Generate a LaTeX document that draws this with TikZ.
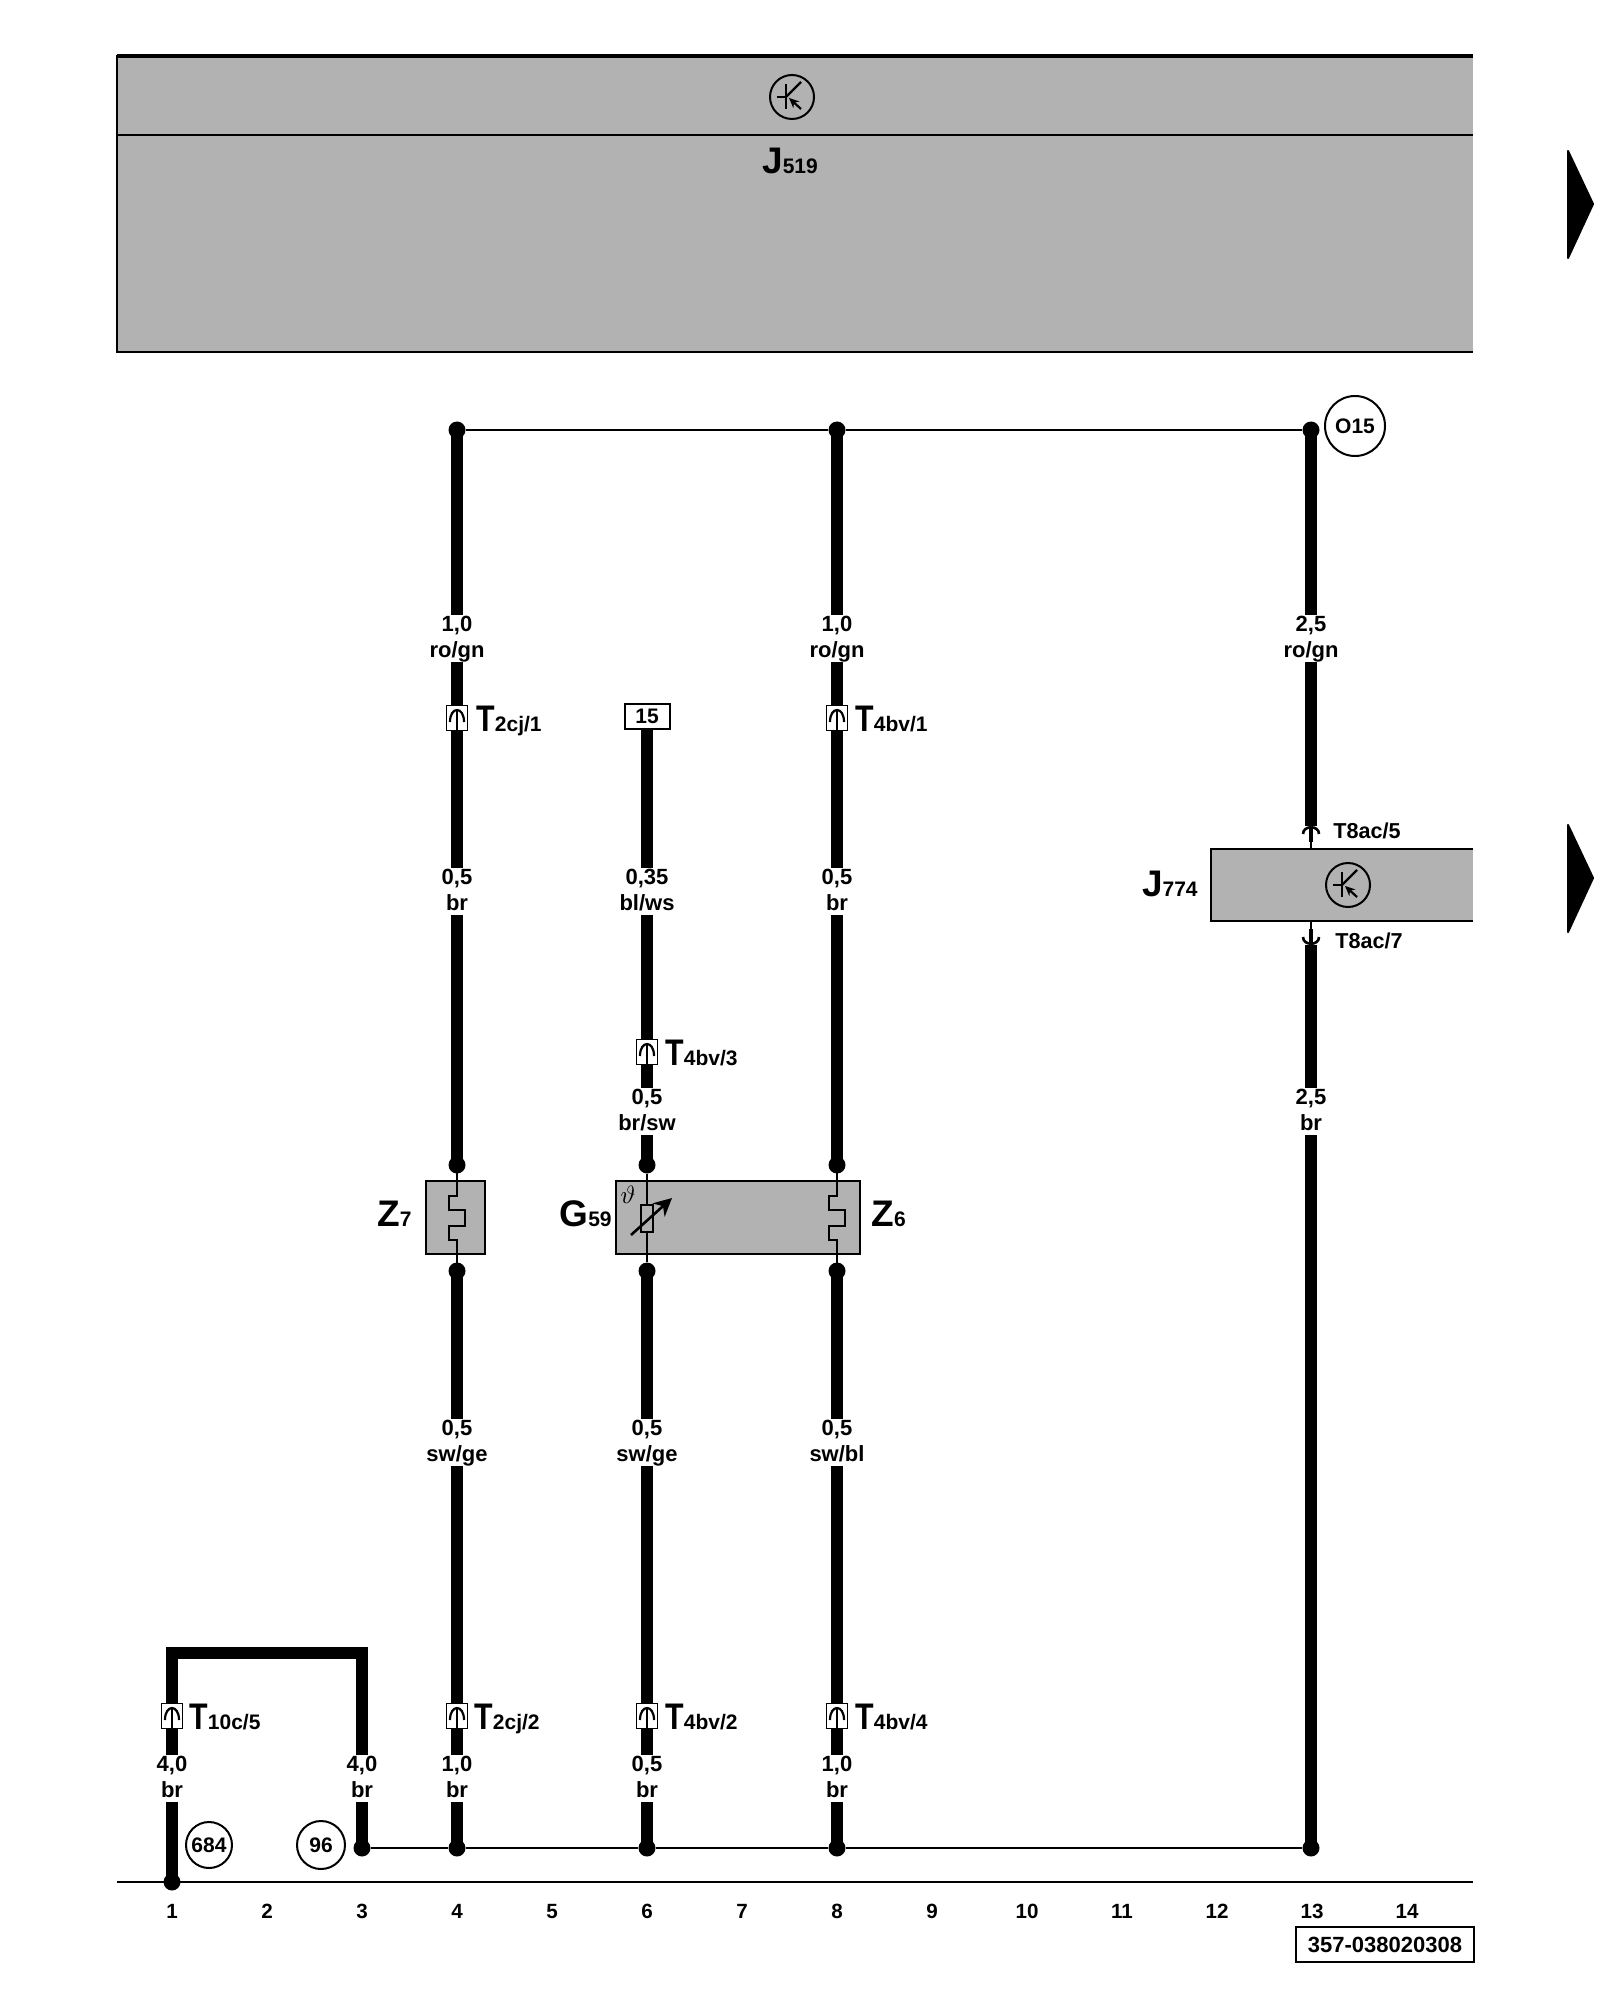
\documentclass[tikz,border=0pt]{standalone}
\usepackage{fontspec}
\setmainfont{Liberation Sans}
\usetikzlibrary{arrows.meta}
\definecolor{boxgrey}{RGB}{178, 178, 178}
\newcommand{\desig}[2]{{\fontsize{18.5}{18}\selectfont #1}{\fontsize{10.5}{12}\selectfont #2}}
\newcommand{\wstrut}{\rule[-2.4pt]{0pt}{10.6pt}}
\tikzset{
    wire/.style={line width=6pt},
    thinwire/.style={line width=1.1pt},
    dot/.style={circle, fill=black, inner sep=0pt, minimum size=8.5pt},
    wirelabel/.style={fill=white, inner sep=0pt, yshift=-1.3pt, align=center, font=\bfseries\fontsize{11}{13}\selectfont},
    partlabel/.style={inner sep=0pt, font=\bfseries},
    pinlabel/.style={inner sep=0pt, anchor=base west, font=\bfseries\fontsize{10.8}{13}\selectfont},
    housing/.style={draw, fill=white, line width=0.9pt, inner sep=0pt, minimum width=10.5pt, minimum height=12.5pt},
    devbox/.style={draw, fill=boxgrey, line width=1.1pt, inner sep=0pt},
    ring/.style={draw, circle, line width=1pt, inner sep=0pt, font=\bfseries\fontsize{10.5}{12}\selectfont},
    navtip/.style={fill=black, draw=black, line join=round, line width=1pt}
}

\begin{document}
\begin{tikzpicture}[x=0.5pt, y=-0.5pt]
    \useasboundingbox (0, 0) rectangle (1600, 2000);

    % control unit
    \fill[boxgrey] (117, 56) rectangle (1473, 352);
    \draw[line width=1.8pt] (117, 56) -- (1473, 56);
    \draw[thinwire] (117, 135) -- (1473, 135);
    \draw[thinwire] (117, 352) -- (1473, 352);
    \draw[thinwire] (117, 55) -- (117, 353);
    \node[partlabel] (jfive) at (790, 161) {\desig{J}{519}};

    % relay box
    \fill[boxgrey] (1211, 849) rectangle (1473, 921);
    \draw[thinwire] (1473, 849) -- (1211, 849) -- (1211, 921) -- (1473, 921);
    \node[partlabel, anchor=base east] (jseven) at (1198, 896) {\desig{J}{774}};

    % transistor signs
    \foreach \tx/\ty in {792/97, 1348/885} {
            \node[ring, minimum size=22pt] (tr\tx) at (\tx, \ty) {};
            \draw[thinwire] (\tx - 6, \ty - 13) -- (\tx - 6, \ty + 12);
            \draw[thinwire] (\tx - 15, \ty) -- (\tx - 6, \ty);
            \draw[thinwire] (\tx - 6, \ty) -- (\tx + 9, \ty - 15);
            \draw[thinwire, {Stealth[length=5pt, width=4.5pt]}-] (\tx - 3, \ty + 1) -- (\tx + 9, \ty + 12);
        }

    % devices
    \node[devbox, minimum width=29.5pt, minimum height=36.5pt] (zseven) at (455.5, 1217.5) {};
    \node[devbox, minimum width=122pt, minimum height=36.5pt] (gfifty) at (738, 1217.5) {};
    \node[partlabel, anchor=base east] (zsevenname) at (412, 1226) {\desig{Z}{7}};
    \node[partlabel, anchor=base east] (gname) at (612, 1226) {\desig{G}{59}};
    \node[partlabel, anchor=base west] (zsixname) at (871, 1226) {\desig{Z}{6}};

    % junctions
    \foreach \n/\x/\y in {t4/457/430, t8/837/430, t13/1311/430,
            u4/457/1165, u6/647/1165, u8/837/1165,
            l4/457/1271, l6/647/1271, l8/837/1271,
            b3/362/1848, b4/457/1848, b6/647/1848, b8/837/1848, b13/1311/1848,
            g1/172/1882} {
            \node[dot] (\n) at (\x, \y) {};
        }
    \node[draw, fill=white, line width=1pt, inner sep=0pt, minimum width=22.5pt, minimum height=12.5pt, font=\bfseries\fontsize{10.5}{12}\selectfont] (termfifteen) at (647, 716.5) {15};
    \coordinate (cornerleft) at (172, 1653);
    \coordinate (cornerright) at (362, 1653);
    \coordinate (pinup) at (1311, 826);
    \coordinate (pindown) at (1311, 945);

    % thin lines
    \draw[thinwire] (t4) -- (t8) -- (t13);
    \draw[thinwire] (b3) -- (b4) -- (b6) -- (b8) -- (b13);
    \draw[thinwire] (117, 1882) -- (1473, 1882);

    % wires
    \draw[wire] (t4.center) -- (u4.center);
    \draw[wire] (t8.center) -- (u8.center);
    \draw[wire] (termfifteen.south) -- (u6.center);
    \draw[wire] (l4.center) -- (b4.center);
    \draw[wire] (l6.center) -- (b6.center);
    \draw[wire] (l8.center) -- (b8.center);
    \draw[wire] (t13.center) -- (pinup);
    \draw[wire] (pindown) -- (b13.center);
    \draw[wire, line join=miter] (g1.center) -- (cornerleft) -- (cornerright) -- (b3.center);

    % fuses and sensor
    \foreach \a/\b in {u4/l4, u8/l8} {
            \draw[thinwire] (\a.center) -- ++(0, 31) -- ++(-8, 0) -- ++(0, 14) -- ++(16, 0) -- ++(0, 16)
            -- ++(-16, 0) -- ++(0, 14) -- ++(8, 0) -- (\b.center);
        }
    \draw[thinwire] (u6) -- (l6);
    \node[draw, fill=boxgrey, line width=1pt, inner sep=0pt, minimum width=6.3pt, minimum height=13.5pt] (sensor) at (647, 1218) {};
    \draw[line width=1.3pt, -{Stealth[length=9pt, width=9pt]}] (631, 1235) -- (672, 1198);
    \node[inner sep=0pt, scale=1.25] (theta) at (628, 1195) {$\vartheta$};

    % relay pins
    \draw[thinwire] (1311, 840) -- (1311, 849);
    \draw[line width=2.4pt] (1311, 828) -- (1311, 842);
    \draw[line width=1.3pt] (1303, 834) .. controls (1303, 825) and (1319, 825) .. (1319, 834);
    \draw[thinwire] (1311, 921) -- (1311, 931);
    \draw[line width=2.4pt] (1311, 929) -- (1311, 943);
    \draw[line width=1.3pt] (1303, 937) .. controls (1303, 946) and (1319, 946) .. (1319, 937);
    \node[pinlabel] (pinfive) at (1333, 838) {T8ac/5};
    \node[pinlabel] (pinseven) at (1335, 948) {T8ac/7};

    % wire labels
    \foreach \n/\x/\y/\wsize/\wcol in {a1/457/636/{1,0}/ro\slash gn, a2/837/636/{1,0}/ro\slash gn, a3/1311/636/{2,5}/ro\slash gn,
            c1/457/889/{0,5}/br, c2/647/889/{0,35}/bl\slash ws, c3/837/889/{0,5}/br,
            d1/647/1109/{0,5}/br\slash sw, d2/1311/1109/{2,5}/br,
            e1/457/1440/{0,5}/sw\slash ge, e2/647/1440/{0,5}/sw\slash ge, e3/837/1440/{0,5}/sw\slash bl,
            f1/172/1776/{4,0}/br, f2/362/1776/{4,0}/br, f3/457/1776/{1,0}/br, f4/647/1776/{0,5}/br, f5/837/1776/{1,0}/br} {
            \node[wirelabel] (\n) at (\x, \y) {\wstrut\wsize\\\wstrut\wcol};
        }

    % housings
    \foreach \n/\x/\y/\tx/\tnum in {h1/457/718/476/2cj\slash 1, h2/837/718/855/4bv\slash 1, h3/647/1052/665/4bv\slash 3,
            h4/172/1716/189/10c\slash 5, h5/457/1716/474/2cj\slash 2, h6/647/1716/665/4bv\slash 2, h7/837/1716/855/4bv\slash 4} {
            \node[housing] (\n) at (\x, \y) {};
            \draw[line width=1.1pt] (\x - 7, \y + 4) .. controls (\x - 7, \y - 12) and (\x + 7, \y - 12) .. (\x + 7, \y + 4);
            \draw[line width=1.4pt] (\x, \y - 7) -- (\x, \y + 12);
            \node[partlabel, anchor=base west] (\n name) at (\tx, \y + 13) {\desig{\scalebox{0.82}[1]{T}}{\tnum}};
        }

    % rings
    \node[ring, minimum size=30pt] (ofifteen) at (1355, 426) {O15};
    \node[ring, minimum size=23pt] (ringsix) at (209, 1845) {684};
    \node[ring, minimum size=24pt] (ringnine) at (321, 1845) {96};

    % track numbers
    \foreach \i in {1, ..., 14} {
            \pgfmathtruncatemacro{\nx}{172 + 95 * (\i - 1)};
            \node[inner sep=0pt, font=\bfseries\fontsize{10.3}{12}\selectfont] (num\i) at (\nx, 1911) {\i};
        }
    \node[draw, line width=1pt, inner sep=0pt, minimum width=89pt, minimum height=17.5pt, font=\bfseries\fontsize{11}{13}\selectfont] (docnumber) at (1385, 1944.5) {357-038020308};

    % page arrows
    \fill[navtip] (1568, 151) -- (1593, 204) -- (1568, 258) -- cycle;
    \fill[navtip] (1568, 825) -- (1593, 878) -- (1568, 932) -- cycle;

\end{tikzpicture}
\end{document}
